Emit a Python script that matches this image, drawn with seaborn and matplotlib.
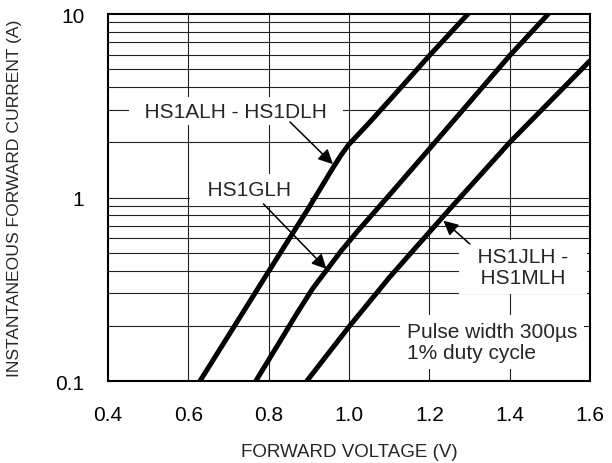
import matplotlib
matplotlib.use("Agg")
import matplotlib.pyplot as plt
import seaborn as sns
import pandas as pd

# ---- data ----
v_a = [0.629, 0.70, 0.80, 0.90, 0.96, 0.98, 1.00, 1.05, 1.10, 1.20, 1.296]
i_a = [0.10, 0.177, 0.396, 0.88, 1.45, 1.70, 1.95, 2.55, 3.37, 5.93, 10.0]
v_b = [0.768, 0.83, 0.87, 0.91, 0.98, 1.02, 1.102, 1.20, 1.40, 1.496]
i_b = [0.10, 0.167, 0.233, 0.32, 0.51, 0.65, 1.04, 1.84, 5.93, 10.0]
v_c = [0.895, 1.002, 1.102, 1.251, 1.40, 1.60]
i_c = [0.10, 0.20, 0.37, 0.866, 1.995, 5.56]
series_names = ["HS1ALH - HS1DLH", "HS1GLH", "HS1JLH - HS1MLH"]

x_ticks = [0.4, 0.6, 0.8, 1.0, 1.2, 1.4, 1.6]
x_tick_labels = ["0.4", "0.6", "0.8", "1.0", "1.2", "1.4", "1.6"]
y_ticks = [0.1, 1, 10]
y_tick_labels = ["0.1", "1", "10"]

df = pd.concat([
    pd.DataFrame({"V": v_a, "I": i_a, "s": series_names[0]}),
    pd.DataFrame({"V": v_b, "I": i_b, "s": series_names[1]}),
    pd.DataFrame({"V": v_c, "I": i_c, "s": series_names[2]}),
])

sns.set_style("white")
plt.rcParams["font.family"] = ["Liberation Sans", "DejaVu Sans"]

fig = plt.figure(figsize=(6.12, 4.64), dpi=100)
ax = fig.add_axes([108 / 612, 1 - 382 / 464, 482 / 612, 367 / 464])
ax.set_yscale("log")
ax.set_xlim(0.4, 1.6)
ax.set_ylim(0.1, 10)

# grid
grid_kw = dict(color="#222222", lw=0.8, zorder=1)
for xv in x_ticks[1:-1]:
    ax.axvline(xv, **grid_kw)
for dec in [0.1, 1]:
    for m in range(1, 10):
        yv = dec * m
        if 0.1 < yv < 10:
            ax.axhline(yv, **grid_kw)

sns.lineplot(data=df, x="V", y="I", units="s", estimator=None, sort=False,
             color="black", lw=3.6, ax=ax, zorder=4.5, legend=False)

for sp in ax.spines.values():
    sp.set_linewidth(1.5)
    sp.set_color("black")
    sp.set_zorder(5)

ax.set_xticks(x_ticks)
ax.set_xticklabels(x_tick_labels)
ax.set_yticks(y_ticks)
ax.set_yticklabels(y_tick_labels)
ax.minorticks_off()
ax.tick_params(axis="both", length=0, labelsize=15, colors="black")
ax.tick_params(axis="x", pad=17)
ax.tick_params(axis="y", pad=17)
ax.set_xlabel("FORWARD VOLTAGE (V)", fontsize=13.5, labelpad=14)
ax.set_ylabel("INSTANTANEOUS FORWARD CURRENT (A)", fontsize=12.6, labelpad=24)

ax.text(0.719, 2.96, "  HS1ALH - HS1DLH  ", fontsize=15, ha="center", va="center",
        bbox=dict(facecolor="white", edgecolor="none", pad=3), zorder=4)
ax.text(0.753, 1.10, "  HS1GLH  ", fontsize=15, ha="center", va="center",
        bbox=dict(facecolor="white", edgecolor="none", pad=5), zorder=4)
ax.text(1.433, 0.418, "  HS1JLH -  \n  HS1MLH  ", fontsize=15, ha="center", va="center",
        linespacing=1.1, bbox=dict(facecolor="white", edgecolor="none", pad=5), zorder=4)
ax.text(1.144, 0.163, "Pulse width 300µs\n1% duty cycle", fontsize=15, ha="left",
        va="center", linespacing=1.15,
        bbox=dict(facecolor="white", edgecolor="none", pad=5), zorder=4)

arrow_kw = dict(arrowstyle="-|>", color="black", lw=1.1, mutation_scale=22,
                shrinkA=0, shrinkB=0)
ax.annotate("", xy=(0.960, 1.52), xytext=(0.853, 2.58), arrowprops=arrow_kw, zorder=6)
ax.annotate("", xy=(0.944, 0.408), xytext=(0.787, 0.922), arrowprops=arrow_kw, zorder=6)
ax.annotate("", xy=(1.235, 0.748), xytext=(1.301, 0.558), arrowprops=arrow_kw, zorder=6)

fig.savefig("out.png", dpi=100)
